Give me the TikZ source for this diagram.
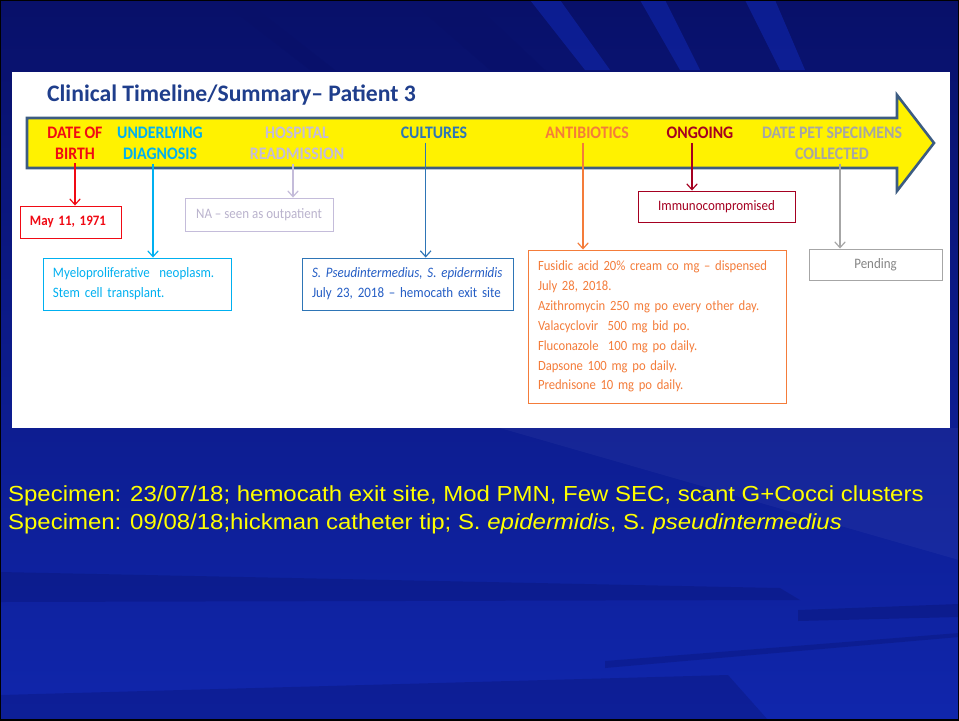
\documentclass[tikz,border=0pt]{standalone}
\usepackage{fontspec}
\setmainfont{Carlito}
\newfontfamily\narrowcal[FakeStretch=0.9]{Carlito}
\newfontfamily\slidefont[FakeStretch=1.1]{Liberation Sans}
\usetikzlibrary{arrows.meta}
\definecolor{bgtop}{RGB}{8,16,105}
\definecolor{bgbottom}{RGB}{16,38,172}
\definecolor{titleblue}{RGB}{31,62,140}
\definecolor{arrowedge}{RGB}{60,92,130}
\definecolor{dobred}{RGB}{240,10,20}
\definecolor{diagcyan}{RGB}{0,176,240}
\definecolor{readmgray}{RGB}{196,188,218}
\definecolor{cultblue}{RGB}{46,117,182}
\definecolor{abxorange}{RGB}{244,124,58}
\definecolor{ongored}{RGB}{165,0,33}
\definecolor{petgray}{RGB}{166,166,166}
\definecolor{specyellow}{RGB}{255,255,0}

\begin{document}
\begin{tikzpicture}[x=0.03cm,y=-0.03cm,
	stage/.style={font=\narrowcal\bfseries\fontsize{15}{18}\selectfont,align=center},
	infobox/.style={draw,line width=0.8pt,font=\narrowcal\fontsize{12.3}{17}\selectfont,inner xsep=0.3cm},
	pointer/.style={-{Straight Barb[length=5pt,width=9pt]},line width=1pt}]
	\useasboundingbox (0,0) rectangle (959,720);
	\shade[top color=bgtop,bottom color=bgbottom] (0,0) rectangle (959,720);
	\fill[bgtop,opacity=0.6] (220,0) -- (245,0) -- (335,70) -- (310,70) -- cycle;
	\fill[bgtop,opacity=0.6] (410,0) -- (470,0) -- (545,70) -- (490,70) -- cycle;
	\fill[bgbottom,opacity=0.6] (530,0) -- (560,0) -- (610,70) -- (585,70) -- cycle;
	\fill[bgbottom,opacity=0.6] (640,0) -- (665,0) -- (700,70) -- (680,70) -- cycle;
	\fill[bgbottom,opacity=0.6] (745,0) -- (775,0) -- (805,70) -- (780,70) -- cycle;
	\fill[bgtop,opacity=0.3] (0,695) -- (0,720) -- (768,720) -- (728,675) -- cycle;
	\fill[bgtop,opacity=0.3] (0,572) -- (0,602) -- (800,600) -- (780,588) -- cycle;
	\fill[bgtop,opacity=0.35] (798,621) -- (959,617) -- (959,604) -- (798,610) -- cycle;
	\fill[bgtop,opacity=0.3] (605,661) -- (605,668) -- (959,637) -- (959,633) -- cycle;
	\fill[white,opacity=0.04] (500,428) -- (959,428) -- (959,560) -- cycle;
	\draw[black,line width=2pt] (0,0) rectangle (959,720);
	\fill[white] (12,72) rectangle (950,428);
	\node[anchor=west,text=titleblue,font=\bfseries\fontsize{20.2}{24}\selectfont] (title) at (43,95) {Clinical Timeline/Summary– Patient 3};
	\draw[fill=yellow,draw=arrowedge,line width=2.2pt,line join=miter] (27,118) -- (897,118) -- (897,95) -- (934,143) -- (897,191) -- (897,168) -- (27,168) -- cycle;
	\node[stage,text=dobred] (dob) at (75,143) {DATE OF\\BIRTH};
	\node[stage,text=diagcyan] (diag) at (160,143) {UNDERLYING\\DIAGNOSIS};
	\node[stage,text=readmgray] (readm) at (297,143) {HOSPITAL\\READMISSION};
	\node[stage,text=cultblue] (cult) at (434,133) {CULTURES};
	\node[stage,text=abxorange] (abx) at (587,133) {ANTIBIOTICS};
	\node[stage,text=ongored] (ongo) at (700,133) {ONGOING};
	\node[stage,text=petgray] (pet) at (832,143) {DATE PET SPECIMENS\\COLLECTED};
	\node[infobox,draw=dobred,text=dobred,minimum width=3.03cm,minimum height=0.96cm,text width=2.43cm,align=left,font=\narrowcal\bfseries\fontsize{12.3}{17}\selectfont] (dobbox) at (70.5,222) {May 11, 1971};
	\node[infobox,draw=diagcyan,text=diagcyan,minimum width=5.64cm,minimum height=1.56cm,text width=5.04cm,align=left] (diagbox) at (137,284) {Myeloproliferative\ \ neoplasm.\\Stem cell transplant.};
	\node[infobox,draw=readmgray,text=readmgray!85!gray,minimum width=4.44cm,minimum height=0.99cm] (readmbox) at (259,214.5) {NA – seen as outpatient};
	\node[infobox,draw=cultblue,text=cultblue!80!blue,minimum width=6.33cm,minimum height=1.56cm,text width=5.73cm,align=left] (cultbox) at (407.5,284) {\textit{S. Pseudintermedius,\ S. epidermidis}\\July 23, 2018 – hemocath exit site};
	\node[infobox,draw=abxorange,text=abxorange,minimum width=7.74cm,minimum height=4.59cm,text width=7.14cm,align=left,font=\narrowcal\fontsize{12}{17}\selectfont] (abxbox) at (657,326.5) {Fusidic acid 20\% cream co mg – dispensed\\July 28, 2018.\\Azithromycin 250 mg po every other day.\\Valacyclovir\ \ 500 mg bid po.\\Fluconazole\ \ 100 mg po daily.\\Dapsone 100 mg po daily.\\Prednisone 10 mg po daily.};
	\node[infobox,draw=ongored,text=ongored,minimum width=4.71cm,minimum height=0.93cm] (ongobox) at (716.5,206.5) {Immunocompromised};
	\node[infobox,draw=petgray,text=petgray!80!black,minimum width=3.99cm,minimum height=0.93cm] (petbox) at (875.5,264.5) {Pending};
	\draw[pointer,dobred] (dob.south) -- (dob.south |- dobbox.north);
	\draw[pointer,diagcyan] ([xshift=-0.21cm]diag.south) -- ([xshift=-0.21cm]diag.south |- diagbox.north);
	\draw[pointer,readmgray] ([xshift=-0.12cm]readm.south) -- ([xshift=-0.12cm]readm.south |- readmbox.north);
	\draw[pointer,cultblue] ([xshift=-0.25cm]cult.south) -- ([xshift=-0.25cm]cult.south |- cultbox.north);
	\draw[pointer,abxorange] ([xshift=-0.12cm]abx.south) -- ([xshift=-0.12cm]abx.south |- abxbox.north);
	\draw[pointer,ongored] ([xshift=-0.24cm]ongo.south) -- ([xshift=-0.24cm]ongo.south |- ongobox.north);
	\draw[pointer,petgray] ([xshift=0.24cm]pet.south) -- ([xshift=0.24cm]pet.south |- petbox.north);
	\node[anchor=west,text=specyellow,font=\slidefont\fontsize{18.6}{23.8}\selectfont,align=left] (spec) at (4,510) {Specimen: 23/07/18; hemocath exit site, Mod PMN, Few SEC, scant G+Cocci clusters\\Specimen: 09/08/18;hickman catheter tip; S. \textit{epidermidis}, S. \textit{pseudintermedius}};
\end{tikzpicture}
\end{document}
